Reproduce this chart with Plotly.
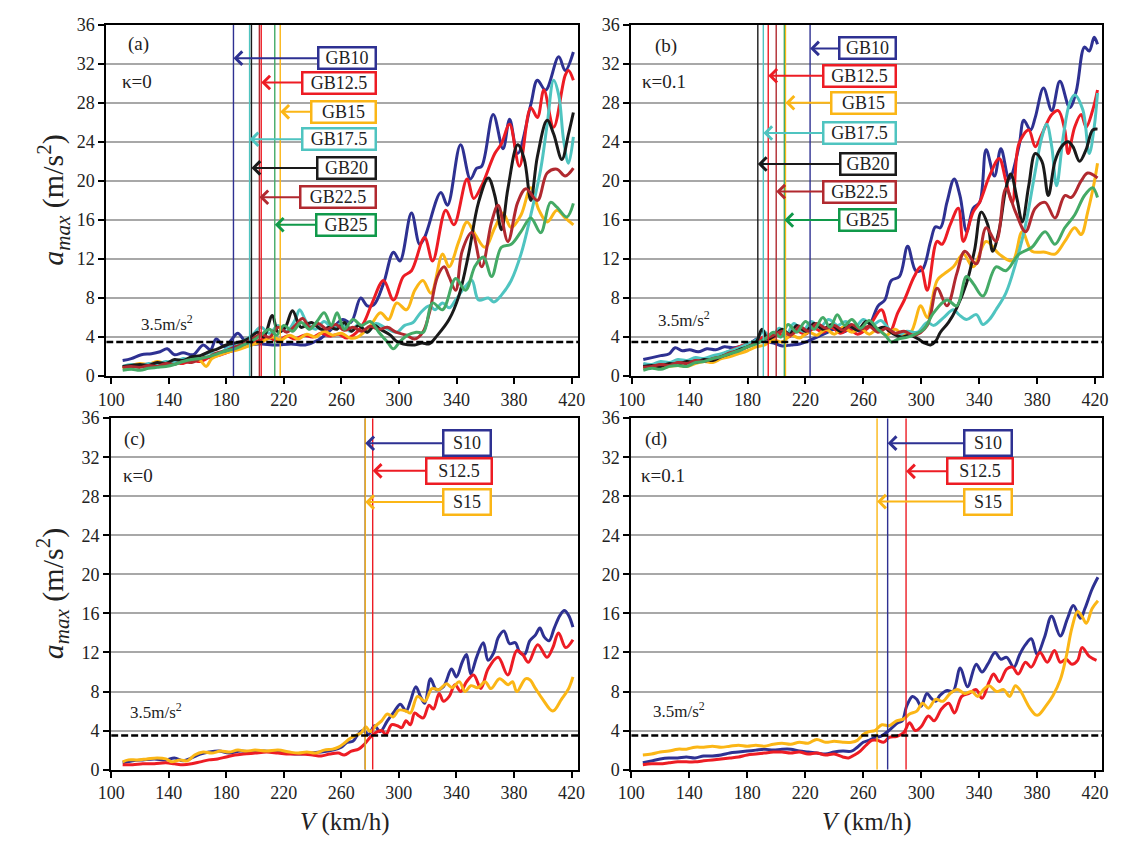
import plotly.graph_objects as go

W, H = 1125, 848
FONT = "Liberation Serif"

# ---------------- data ----------------
speed_ticks = [100, 140, 180, 220, 260, 300, 340, 380, 420]
acc_ticks = [0, 4, 8, 12, 16, 20, 24, 28, 32, 36]
limit_acc = 3.5
acc_span = [0, 36]

names_gb = ["GB10", "GB12.5", "GB15", "GB17.5", "GB20", "GB22.5", "GB25"]
names_s = ["S10", "S12.5", "S15"]

# (a) kappa = 0, GB series: (V km/h, a_max m/s2)
gb10_k0 = [(108,1.6),(114,1.8),(121,2.2),(128,2.3),(134,2.5),(139,2.8),(144,2.2),(150,2.4),(157,2.2),(164,3.2),(169,2.7),(173,3.8),(179,3.0),(184,3.8),(188,4.4),(193,3.6),(198,3.3),(205,3.3),(212,3.2),(216.6,3.2),(225,3.3),(234.8,3.2),(243.9,3.7),(253,4.8),(261,5.8),(266.6,5.5),(273.4,8.0),(278,7.2),(282.5,7.3),(289.3,9.5),(296.2,12.7),(300.7,11.8),(308.7,16.7),(314.4,13.5),(317.8,14.2),(329.1,18.8),(333.7,17.5),(342.8,23.7),(349.6,20.2),(354.1,21.3),(357.5,21.5),(365.5,26.8),(372.3,23.3),(376.9,26.3),(382.5,22.8),(391.6,27.8),(396.2,30.3),(401.9,29.3),(411.0,32.7),(415.5,31.3),(421.2,33.2)]
gb125_k0 = [(108,1.0),(114,0.9),(120,1.1),(126,1.0),(132,1.3),(138,1.2),(144,1.4),(150,1.3),(156,1.6),(162,1.5),(168,1.9),(174,2.1),(180,2.4),(186,2.7),(192,3.2),(198,3.5),(204,3.7),(210,3.9),(216,3.6),(222,4.1),(228,3.8),(234,4.2),(240,4.0),(246,4.4),(252,4.1),(258,4.3),(264,3.9),(270,4.4),(275.7,5.5),(281.4,7.5),(289.3,9.8),(296.2,7.8),(303,10.2),(308.7,10.8),(317.8,14.2),(323.4,11.8),(332.5,17.0),(338.2,15.5),(347.3,20.2),(351.9,18.2),(357.5,19.5),(366.6,22.8),(371.2,23.8),(376.9,25.8),(383.7,21.5),(391.6,27.5),(396.2,26.5),(400.7,29.3),(407.5,25.5),(415.5,30.8),(417.8,31.3),(421.2,30.3)]
gb15_k0 = [(108,0.8),(114,1.1),(120,1.3),(126,1.2),(132,1.5),(138,1.3),(144,1.6),(150,1.5),(156,1.9),(162,1.6),(166,1.0),(170,1.8),(176,2.2),(182,2.5),(188,2.7),(194,3.0),(200,3.3),(206,3.6),(212,4.0),(218,3.7),(224,4.2),(230,3.8),(236,4.3),(242,4.0),(248,4.6),(254,4.2),(260,4.4),(266,3.9),(271.2,4.0),(280.3,5.2),(287.1,6.5),(292.8,5.8),(298.4,7.5),(305.3,6.8),(311,8.8),(316.6,9.8),(322.3,8.5),(330.3,12.5),(334.8,11.2),(341.6,13.8),(347.3,15.8),(353,14.5),(359.8,13.2),(366.6,15.2),(372.3,16.7),(378,15.2),(384.8,16.5),(391.6,19.3),(397.3,17.0),(403,15.8),(409.8,17.0),(415.5,16.2),(421.2,15.5)]
gb175_k0 = [(108,1.0),(114,1.2),(120,1.0),(126,1.3),(132,1.2),(138,1.5),(144,1.4),(150,1.8),(156,1.6),(162,2.0),(168,2.4),(174,2.3),(180,2.8),(186,3.2),(192,3.6),(198,4.2),(204,5.0),(210,4.4),(216,5.2),(222,4.6),(228,5.8),(231,6.8),(236,5.5),(242,4.8),(248,5.6),(254,4.9),(260,5.4),(266,4.6),(272,5.3),(278,4.5),(284,5.4),(290,5.0),(298.4,4.5),(304,5.2),(309.8,5.5),(315,6.5),(321.2,7.2),(325,6.8),(330.3,7.5),(335,7.0),(339.4,7.8),(346.2,9.2),(350.7,9.8),(355.3,7.8),(362.1,8.0),(366,7.6),(371.2,8.3),(378,9.8),(384.8,12.5),(391.6,16.5),(398.5,21.2),(403,25.8),(407.5,30.3),(411,28.8),(414.4,24.2),(417.8,21.8),(421.2,24.5)]
gb20_k0 = [(108,1.0),(114,1.1),(120,1.2),(126,1.1),(132,1.4),(138,1.3),(144,1.7),(150,1.6),(156,2.0),(162,2.1),(168,2.5),(174,2.8),(180,3.2),(186,3.4),(192,3.6),(197,4.0),(202,4.5),(206,4.0),(212,6.2),(216,4.5),(221,5.0),(226,6.7),(232,5.0),(239,5.5),(246,4.8),(252,5.0),(257,4.8),(262,5.5),(267,4.6),(272,5.2),(278,4.5),(283,5.2),(287,4.8),(294,4.2),(298,3.6),(303,3.3),(311,3.2),(316,3.4),(321,3.3),(326.8,4.2),(334.8,5.8),(341.6,8.2),(348.4,12.5),(355.3,17.8),(362.1,20.3),(366.6,18.5),(371.2,15.0),(375.7,19.2),(382.5,23.7),(387.1,22.2),(391.6,18.0),(396.2,22.5),(403,26.2),(407.5,24.8),(413.2,22.2),(417.8,24.8),(421.2,27.0)]
gb225_k0 = [(108,0.9),(114,1.0),(120,0.9),(126,1.1),(132,1.0),(138,1.3),(144,1.2),(150,1.5),(156,1.4),(162,1.8),(168,2.0),(174,2.4),(180,2.6),(186,3.0),(192,3.3),(198,3.8),(204,4.3),(210,4.0),(216,5.0),(222,4.5),(228,5.2),(233,5.9),(238,5.0),(244,5.4),(250,4.8),(256,5.3),(262,4.7),(268,5.0),(274,4.6),(280,5.1),(286,4.8),(292,5.0),(298,4.5),(305,4.2),(311,3.8),(316.6,4.5),(321.2,6.5),(326.8,10.2),(331.4,11.2),(334.8,10.2),(339.4,8.8),(343.9,12.8),(350.7,14.7),(357.5,11.2),(364.4,15.8),(368.9,17.5),(375.7,13.8),(382.5,17.8),(388.2,19.2),(396.2,18.0),(403,20.8),(409.8,21.2),(415.5,20.5),(421.2,21.3)]
gb25_k0 = [(108,0.6),(114,0.7),(120,0.6),(126,0.8),(132,0.9),(138,1.0),(144,1.2),(150,1.5),(156,1.7),(162,1.8),(168,2.0),(174,2.3),(180,2.6),(186,2.8),(192,3.2),(198,3.6),(204,4.2),(210,4.8),(215,4.2),(220,5.2),(226,4.6),(232,5.5),(238,4.8),(243,5.6),(248,6.5),(253,5.2),(257,6.5),(262,4.8),(268,5.8),(274,5.2),(280,5.6),(286,4.5),(292,3.5),(296,2.8),(301,3.6),(306,4.2),(312,4.5),(317,4.5),(323.4,7.5),(330.3,6.8),(339.4,10.0),(346.2,8.8),(353,11.3),(358.7,12.2),(364.4,10.2),(371.2,13.2),(378,13.5),(384.8,14.8),(391.6,16.2),(398.5,14.7),(405.3,17.8),(409.8,17.3),(416.6,16.3),(421.2,17.7)]

# (b) kappa = 0.1, GB series
gb10_k01 = [(108,1.7),(114,1.9),(120,2.1),(126,2.3),(130,2.9),(135,2.6),(140,2.7),(146,2.5),(152,2.8),(158,2.7),(164,3.0),(170,2.9),(176,3.1),(182,3.4),(188,3.9),(193,3.5),(198,3.4),(204,3.1),(210,3.2),(216,3.3),(222,3.6),(228,4.0),(234,4.4),(240,4.8),(246,4.5),(252,4.9),(258,4.6),(263.4,5.0),(270.2,7.2),(274.8,7.8),(279.3,9.8),(284.9,10.2),(290.6,13.3),(296.2,10.8),(300.7,10.9),(306.4,13.8),(309.8,15.3),(313.2,15.2),(317.7,17.8),(322.7,20.2),(326.7,18.5),(331.3,14.8),(335.8,17.2),(340.3,17.8),(344.8,23.2),(350.5,20.5),(355,23.3),(360.7,20.2),(367.4,23.5),(370.8,26.2),(375.4,25.2),(378.7,26.5),(384.4,29.5),(390.1,27.2),(395.7,30.2),(402.5,27.5),(407,29.2),(412.7,33.7),(416,33.3),(419.4,34.7),(421.7,34.0)]
gb125_k01 = [(108,1.2),(114,1.1),(120,1.4),(126,1.3),(132,1.6),(138,1.5),(144,1.8),(150,1.7),(156,2.0),(162,2.2),(168,2.6),(174,3.0),(180,3.3),(186,3.6),(191,4.0),(196,3.8),(202,4.3),(208,4.0),(214,4.6),(220,4.3),(226,4.9),(232,4.5),(238,5.0),(244,4.4),(250,4.8),(256,4.3),(263.4,5.0),(272.5,6.8),(278.1,4.5),(283.8,6.5),(288.3,7.8),(295.1,10.2),(299.6,11.2),(304.1,8.8),(310.9,13.8),(314.3,13.5),(319.9,15.5),(325.6,17.2),(329,13.8),(335.8,16.8),(340.3,17.8),(347.1,20.5),(353.8,22.3),(358.4,20.0),(362.9,17.8),(367.4,23.8),(374.2,25.2),(378.7,23.5),(383.3,24.8),(390.1,26.8),(394.6,27.2),(399.1,25.2),(401.4,22.8),(405.9,25.5),(410.4,26.8),(413.8,25.5),(418.3,27.2),(421.7,29.3)]
gb15_k01 = [(108,0.8),(114,0.9),(120,0.8),(126,1.0),(132,1.1),(138,1.0),(144,1.3),(150,1.5),(156,1.4),(162,1.8),(168,2.0),(174,2.3),(180,2.6),(186,3.0),(192,3.2),(198,3.7),(204,3.5),(210,4.2),(216,3.9),(222,4.5),(228,4.2),(234,4.8),(240,4.3),(246,5.0),(252,4.5),(258,4.9),(264,4.3),(270,4.8),(276,4.2),(282,4.8),(287,4.3),(292.8,4.5),(299.6,7.2),(304.1,6.0),(310.9,9.8),(316,10.5),(322.2,11.2),(329,12.5),(335.8,11.2),(344.8,13.8),(353.8,12.5),(362.9,11.8),(369.7,14.8),(376.4,12.8),(385.5,12.7),(392.3,12.5),(399.1,13.8),(405.9,15.2),(410.4,14.5),(414.9,16.8),(419.4,19.8),(421.7,21.8)]
gb175_k01 = [(108,1.3),(114,1.2),(120,1.5),(126,1.4),(132,1.7),(138,1.6),(144,1.9),(150,1.8),(156,2.1),(162,2.3),(168,2.6),(174,2.9),(180,3.3),(186,3.7),(191,4.6),(196,4.0),(202,4.9),(207,4.3),(212,5.4),(218,4.6),(224,5.6),(230,5.0),(236,5.8),(242,5.2),(248,5.6),(254,5.0),(260,5.8),(266,5.2),(272,5.7),(278,4.8),(284,4.2),(290,4.6),(297.3,4.5),(304.1,5.5),(308.6,5.2),(315.4,6.0),(322.2,6.8),(326,6.3),(331.2,5.8),(338,6.3),(342.5,5.3),(347,5.8),(351.6,6.8),(358.4,8.5),(365.1,11.5),(372,15.5),(378.7,21.0),(383.3,24.5),(386.6,25.8),(390.1,23.5),(393.4,19.5),(398,24.5),(402.5,28.0),(405.9,28.8),(411.5,27.3),(416,22.8),(419.4,25.5),(421.7,29.0)]
gb20_k01 = [(108,1.0),(114,1.1),(120,1.0),(126,1.3),(132,1.2),(138,1.5),(144,1.4),(150,1.7),(156,1.6),(162,2.0),(168,2.3),(174,2.7),(180,3.0),(186,3.5),(190,4.8),(194,3.8),(199,4.2),(204,4.8),(209,4.3),(214,5.2),(220,4.6),(226,5.4),(232,4.8),(238,5.3),(244,4.6),(250,5.2),(256,4.7),(262,5.6),(268,4.8),(274,5.0),(280,4.4),(286,4.0),(292,4.2),(298,3.8),(302,3.4),(306.4,3.2),(310,3.6),(313.2,4.5),(318.8,5.5),(324.5,7.0),(331.2,9.5),(336.9,13.0),(341.4,16.8),(345.9,15.5),(349.3,12.8),(353.8,15.0),(358.4,19.2),(361.8,20.7),(366.3,18.0),(369.7,15.8),(374.2,19.5),(378.7,22.8),(383.3,22.0),(387.7,18.5),(392.3,22.0),(396.8,23.5),(401.4,24.0),(404.7,23.5),(409.3,22.0),(413.8,23.2),(418.3,25.2),(421.7,25.3)]
gb225_k01 = [(108,0.9),(114,1.0),(120,1.2),(126,1.1),(132,1.4),(138,1.3),(144,1.6),(150,1.5),(156,1.8),(162,2.0),(168,2.4),(174,2.6),(180,3.0),(186,3.4),(192,3.8),(198,4.2),(204,4.6),(210,4.2),(216,5.1),(222,4.6),(228,5.4),(234,4.9),(240,5.2),(246,4.7),(252,5.3),(258,4.8),(264,5.1),(270,4.5),(276,4.9),(282,4.4),(288,4.6),(295.1,4.2),(304.1,5.2),(310.9,9.0),(317.7,7.2),(324.5,10.5),(330.1,12.8),(338,11.5),(344.8,15.2),(351.6,13.8),(358.4,19.2),(365.1,16.8),(372,14.8),(378.7,17.2),(385.5,17.8),(392.3,16.2),(399.1,18.5),(403.6,18.3),(410.4,20.0),(414.9,20.8),(421.7,20.3)]
gb25_k01 = [(108,0.6),(114,0.8),(120,0.7),(126,1.0),(132,1.1),(138,1.0),(144,1.4),(150,1.5),(156,1.8),(162,2.0),(168,2.3),(174,2.6),(180,3.0),(186,3.3),(192,3.8),(198,4.5),(203,4.0),(208,5.3),(214,4.5),(220,5.6),(226,4.8),(232,6.0),(237,5.0),(242,6.3),(247,5.2),(252,5.8),(258,4.9),(264,5.7),(270,4.8),(275,4.2),(279.3,3.5),(284,3.8),(290.6,4.0),(296,4.3),(301.8,4.8),(308.6,6.5),(317.7,7.8),(324.5,7.2),(331.2,10.2),(335.8,9.5),(342.5,8.2),(351.6,11.2),(358.4,10.8),(367.4,12.5),(376.4,13.2),(385.5,14.8),(392.3,13.5),(399.1,15.2),(405.9,16.5),(412.7,18.5),(418.3,19.3),(421.7,18.3)]

# (c) kappa = 0, S series
s10_k0 = [(108,0.7),(115,0.9),(122,1.0),(130,1.1),(138,1.0),(144,1.2),(150,0.9),(156,1.2),(162,1.6),(168,1.8),(175,1.9),(182,1.7),(190,1.9),(198,1.8),(206,1.9),(214,1.8),(222,1.7),(230,1.6),(238,1.7),(246,1.8),(254,2.0),(260,2.3),(264,2.8),(268,2.9),(271,3.5),(275,4.0),(279,3.6),(283,4.5),(287,3.9),(292,5.0),(297,6.0),(301,6.7),(305,6.0),(308,7.0),(311.8,8.5),(315,7.5),(318,6.8),(322,9.3),(326,8.2),(331,8.5),(336.6,10.3),(340,9.5),(344,11.0),(347,11.8),(350,9.8),(354,11.5),(358.7,13.0),(362,11.2),(366,12.0),(369,13.5),(373,14.2),(377,12.9),(381,13.0),(384,12.0),(387.4,11.8),(391,13.2),(395,13.8),(398,14.5),(401,13.6),(404.4,13.2),(408,14.5),(412,15.8),(415,16.3),(418,15.8),(421,14.6)]
s125_k0 = [(108,0.5),(115,0.5),(122,0.6),(130,0.6),(138,0.7),(144,0.6),(150,0.5),(156,0.6),(162,0.8),(168,1.0),(174,1.1),(180,1.3),(186,1.5),(192,1.6),(200,1.7),(208,1.8),(216,1.7),(224,1.6),(232,1.6),(240,1.5),(246,1.4),(252,1.6),(258,1.7),(262,1.5),(267,1.9),(272,2.1),(276,2.6),(280,3.3),(284,3.8),(288,4.0),(291,3.6),(295,4.6),(299,4.5),(302,4.3),(305,5.0),(308,4.6),(311,5.8),(314,5.5),(317,5.3),(321,6.6),(324,6.2),(328,7.8),(331,7.0),(335,7.5),(339,8.7),(343,8.0),(347,9.0),(352,9.7),(357,8.3),(362,10.3),(369,11.5),(375.7,9.7),(382,12.2),(386,11.8),(390,11.0),(396.5,12.8),(403,11.5),(407,12.5),(411,14.0),(416,12.5),(421,13.3)]
s15_k0 = [(108,0.8),(112,1.0),(118,1.0),(125,1.1),(132,1.2),(138,1.1),(142,0.8),(148,1.0),(153,0.9),(158,1.5),(164,1.8),(170,1.7),(176,1.9),(182,1.8),(188,2.0),(194,1.9),(200,2.0),(208,1.9),(216,2.0),(224,1.8),(230,1.7),(236,1.8),(242,1.7),(248,2.0),(254,2.1),(258,2.3),(262,2.7),(266,3.2),(270,3.5),(274,3.8),(277,4.4),(280,3.9),(284,4.5),(288,5.0),(292,5.7),(296,5.4),(300,6.1),(305,6.0),(308,5.8),(313,7.5),(318,7.0),(323,8.3),(328,8.2),(333,8.8),(337,8.4),(342,9.0),(346,8.0),(350,8.6),(355,8.4),(360,9.0),(364,8.3),(370,9.3),(376,8.7),(379,9.0),(382,8.0),(388,9.3),(391,9.2),(395,8.3),(400,7.2),(407,6.0),(413,7.2),(418,8.3),(421,9.5)]

# (d) kappa = 0.1, S series
s10_k01 = [(108,0.7),(114,0.9),(120,1.1),(126,1.2),(132,1.2),(138,1.3),(144,1.2),(150,1.4),(156,1.4),(162,1.5),(168,1.7),(174,1.8),(180,1.9),(186,2.0),(192,2.1),(198,2.0),(204,2.1),(210,2.1),(216,1.9),(222,1.8),(228,1.7),(234,1.6),(240,1.8),(246,1.9),(252,1.9),(256,2.3),(260,2.8),(264,3.0),(268,3.3),(272,3.4),(276,3.8),(280,4.3),(284,4.8),(287,5.0),(290,6.5),(294,7.5),(297,7.2),(300,6.5),(304,7.8),(307,7.3),(310,7.0),(313,7.6),(318,8.1),(322,8.0),(327,10.4),(332,8.5),(338,10.8),(342,10.0),(346,10.8),(351,12.0),(355,11.3),(359,11.5),(364,10.5),(368,11.8),(372,12.8),(376,13.4),(380,11.8),(385,13.5),(390,15.7),(396,13.7),(401,15.5),(405,16.8),(410,15.5),(413,16.5),(418,18.5),(422,19.7)]
s125_k01 = [(108,0.5),(114,0.6),(120,0.6),(126,0.7),(132,0.8),(138,0.8),(144,0.8),(150,0.9),(156,1.0),(162,1.1),(168,1.2),(174,1.3),(180,1.5),(186,1.6),(192,1.7),(198,1.8),(204,1.8),(210,1.7),(216,1.8),(222,1.6),(228,1.7),(234,1.5),(240,1.6),(246,1.3),(250,1.2),(254,1.5),(258,1.9),(262,2.5),(266,3.0),(270,3.0),(274,2.8),(278,3.3),(283,3.4),(288,3.8),(292,4.8),(296,4.0),(300,4.4),(305,5.5),(309,5.0),(314,6.2),(319,6.8),(323,5.8),(328,7.5),(333,7.8),(338,8.2),(342,7.3),(347,9.0),(350,9.8),(354,9.0),(359,10.3),(363,10.5),(367,9.8),(372,11.0),(376,10.5),(382,12.0),(387,11.0),(392,12.2),(396,11.0),(400,11.3),(404,10.8),(408,11.2),(411,12.5),(416,11.6),(421,11.2)]
s15_k01 = [(108,1.5),(114,1.6),(120,1.8),(126,1.9),(132,2.1),(138,2.1),(144,2.3),(150,2.3),(156,2.4),(162,2.3),(168,2.4),(174,2.5),(180,2.4),(186,2.5),(192,2.4),(198,2.6),(204,2.7),(210,2.6),(216,2.8),(222,2.7),(228,3.1),(234,2.8),(240,2.9),(246,2.8),(252,2.8),(256,3.0),(260,3.6),(264,3.9),(268,4.0),(273,4.6),(278,4.5),(283,5.0),(288,5.2),(292,5.7),(297,6.0),(301,6.8),(305,6.3),(310,7.2),(315,7.0),(320,7.8),(325,8.2),(330,7.8),(335,8.0),(339,7.5),(343,8.2),(347,8.6),(352,8.0),(357,8.2),(361,7.5),(365,8.6),(368,8.2),(371,7.4),(375,6.3),(379,5.6),(381,5.6),(386,6.5),(391,7.6),(396,9.2),(400,11.5),(404,14.5),(408,16.2),(411,15.7),(414,15.0),(418,16.5),(422,17.3)]

# speeds where each configuration first exceeds the limit (vertical markers)
onset_gb_k0 = [185.0, 204.3, 217.5, 196.2, 197.5, 203.0, 213.7]
onset_gb_k01 = [223.2, 194.3, 206.2, 190.9, 187.1, 199.8, 205.4]
onset_s_k0 = [276.6, 281.8, 276.6]
onset_s_k01 = [276.9, 289.6, 269.6]

# ---------------- styles / layout config ----------------
BLUE = "#2e3192"; RED = "#ed1c24"; YELLOW = "#fbb616"; CYAN = "#4fc4c0"
BLACK = "#1a1a1a"; DRED = "#b1292f"; GREEN = "#44aa66"
gb_colors = [BLUE, RED, YELLOW, CYAN, BLACK, DRED, GREEN]
gb_box_colors = [BLUE, RED, YELLOW, CYAN, BLACK, DRED, "#10994a"]
s_colors = [BLUE, RED, YELLOW]

panels = {
    "a": dict(n=1, xpx=(94, 575), ypx=(15, 375), xr=(96.6, 424.6)),
    "b": dict(n=2, xpx=(629, 1109), ypx=(15, 375), xr=(99.7, 425.0)),
    "c": dict(n=3, xpx=(99, 575), ypx=(418, 778), xr=(100.0, 424.7)),
    "d": dict(n=4, xpx=(629, 1109), ypx=(418, 778), xr=(100.0, 425.0)),
}


def ax_names(p):
    n = panels[p]["n"]
    return ("x" if n == 1 else f"x{n}"), ("y" if n == 1 else f"y{n}")


def px_to_v(p, px):
    d = panels[p]
    (x0, x1), (r0, r1) = d["xpx"], d["xr"]
    return r0 + (px - x0) * (r1 - r0) / (x1 - x0)


fig = go.Figure()
annotations = []


def add_panel(p, series, colors, onsets, names, box_colors, arrow_y,
              box_right_px, box_w_px, box_h_px, tag, kappa, tag_pos, kappa_pos, lim_pos):
    xa, ya = ax_names(p)
    for pts, col in zip(series, colors):
        fig.add_trace(go.Scatter(
            x=[v for v, _ in pts], y=[a for _, a in pts], xaxis=xa, yaxis=ya,
            mode="lines", line=dict(color=col, width=3, shape="spline", smoothing=1.0),
            hoverinfo="skip", showlegend=False))
    for v, col in zip(onsets, colors):
        fig.add_trace(go.Scatter(
            x=[v, v], y=acc_span, xaxis=xa, yaxis=ya, mode="lines",
            line=dict(color=col, width=1.4), hoverinfo="skip", showlegend=False))
    fig.add_trace(go.Scatter(
        x=list(panels[p]["xr"]), y=[limit_acc, limit_acc], xaxis=xa, yaxis=ya,
        mode="lines", line=dict(color="black", width=2.6, dash="7px,3px"),
        hoverinfo="skip", showlegend=False))
    bw = 2.5
    for name, v, yv, bc, w in zip(names, onsets, arrow_y, box_colors, box_w_px):
        cpx = box_right_px - w / 2
        annotations.append(dict(
            xref=xa, yref=ya, x=v, y=yv, ax=px_to_v(p, cpx), ay=yv,
            axref=xa, ayref=ya, text=name, showarrow=True,
            arrowhead=4, arrowsize=1.3, arrowwidth=2, arrowcolor=bc, standoff=0,
            font=dict(family=FONT, size=18, color="#222"),
            bgcolor="white", bordercolor=bc, borderwidth=bw, borderpad=0,
            width=w - 2 * bw, height=box_h_px - 2 * bw))
    annotations.append(dict(xref=xa, yref=ya, x=tag_pos[0], y=tag_pos[1], text=tag,
                            showarrow=False, font=dict(family=FONT, size=19, color="#222")))
    annotations.append(dict(xref=xa, yref=ya, x=kappa_pos[0], y=kappa_pos[1], text=kappa,
                            showarrow=False, font=dict(family=FONT, size=19, color="#222")))
    annotations.append(dict(xref=xa, yref=ya, x=lim_pos[0], y=lim_pos[1],
                            text="3.5m/s<sup>2</sup>", showarrow=False,
                            font=dict(family=FONT, size=17, color="#222")))


add_panel("a", [gb10_k0, gb125_k0, gb15_k0, gb175_k0, gb20_k0, gb225_k0, gb25_k0],
          gb_colors, onset_gb_k0, names_gb, gb_box_colors,
          [32.57, 30.07, 27.07, 24.27, 21.33, 18.33, 15.5],
          369, [60, 76, 67, 76, 61, 78, 62], 24, "(a)", "κ=0",
          (118.9, 34.0), (117.7, 30.2), (138.9, 5.4))
add_panel("b", [gb10_k01, gb125_k01, gb15_k01, gb175_k01, gb20_k01, gb225_k01, gb25_k01],
          gb_colors, onset_gb_k01, names_gb, gb_box_colors,
          [33.57, 30.77, 28.0, 24.9, 21.73, 18.9, 16.0],
          899, [59, 75, 67, 75, 58, 75, 59], 24, "(b)", "κ=0.1",
          (123.9, 33.8), (122.1, 30.2), (136.3, 5.9))
add_panel("c", [s10_k0, s125_k0, s15_k0], s_colors, onset_s_k0, names_s, s_colors,
          [33.43, 30.6, 27.4], 487, [50, 68, 50], 28, "(c)", "κ=0",
          (116.2, 33.9), (118.8, 30.1), (131.5, 6.0))
add_panel("d", [s10_k01, s125_k01, s15_k01], s_colors, onset_s_k01, names_s, s_colors,
          [33.44, 30.55, 27.45], 1018, [50, 68, 50], 28, "(d)", "κ=0.1",
          (117.0, 33.9), (122.0, 30.1), (133.0, 6.1))

# axis titles
ytitle = "<i>a</i><sub><i>max</i></sub> (m/s<sup>2</sup>)"
for yc in (195, 598):
    annotations.append(dict(xref="paper", yref="paper", x=40 / W, y=1 - yc / H,
                            xanchor="center", yanchor="middle",
                            text=ytitle, textangle=-90, showarrow=False,
                            font=dict(family=FONT, size=30, color="#222")))
for xc in (337, 869):
    annotations.append(dict(xref="paper", yref="paper", x=xc / W, y=1 - 832 / H,
                            xanchor="center", yanchor="middle",
                            text="<i>V</i> (km/h)", showarrow=False,
                            font=dict(family=FONT, size=25, color="#222")))

layout = dict(width=W, height=H, margin=dict(l=0, r=0, t=0, b=0),
              paper_bgcolor="white", plot_bgcolor="white", showlegend=False,
              annotations=annotations)
for p, d in panels.items():
    n = d["n"]
    xk = "xaxis" if n == 1 else f"xaxis{n}"
    yk = "yaxis" if n == 1 else f"yaxis{n}"
    xa, ya = ax_names(p)
    layout[xk] = dict(domain=[d["xpx"][0] / W, d["xpx"][1] / W], range=list(d["xr"]),
                      anchor=ya, tickvals=speed_ticks, showgrid=False, zeroline=False,
                      showline=True, linecolor="black", linewidth=2, mirror=True,
                      ticks="outside", ticklen=6, tickwidth=1.5, tickcolor="black",
                      tickfont=dict(family=FONT, size=18, color="#222"))
    layout[yk] = dict(domain=[1 - d["ypx"][1] / H, 1 - d["ypx"][0] / H], range=acc_span,
                      anchor=xa, tickvals=acc_ticks, showgrid=True, gridcolor="#a8a8a8",
                      gridwidth=1.5, zeroline=False, showline=True, linecolor="black",
                      linewidth=2, mirror=True, ticks="outside", ticklen=6, tickwidth=1.5,
                      tickcolor="black", tickfont=dict(family=FONT, size=18, color="#222"))

fig.update_layout(**layout)
fig.write_html("out.html")
